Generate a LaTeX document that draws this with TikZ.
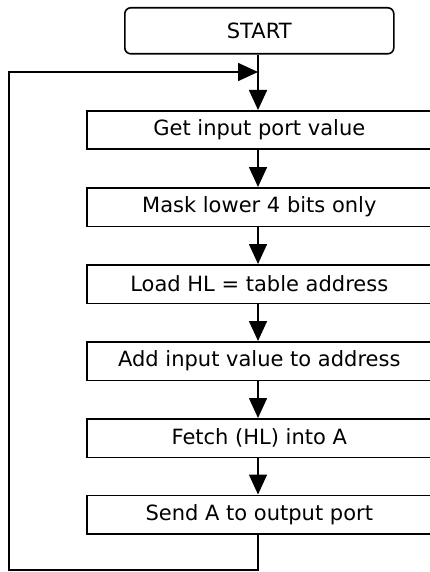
\documentclass[tikz,border=0pt]{standalone}
\usepackage{fontspec}
\setmainfont{DejaVu Sans}
\usetikzlibrary{arrows.meta}
\begin{document}
\begin{tikzpicture}[x=1pt,y=-1pt,
  every node/.style={font=\fontsize{21}{25}\selectfont},
  procbox/.style={draw,line width=1.6pt,minimum width=345pt,minimum height=38.5pt,inner sep=0pt,anchor=north west},
  startbox/.style={draw,line width=1.6pt,rounded corners=6pt,minimum width=269pt,minimum height=46pt,inner sep=0pt,anchor=north west},
  flow/.style={line width=1.6pt,-{Triangle[length=20pt,width=18pt]}},
  plain/.style={line width=1.6pt}]
\useasboundingbox (0,0) rectangle (430,572);
\node[startbox] (start) at (124,7) {START};
\node[procbox] (b1) at (86,110) {Get input port value};
\node[procbox] (b2) at (86,187) {Mask lower 4 bits only};
\node[procbox] (b3) at (86,264) {Load HL = table address};
\node[procbox] (b4) at (86,341) {Add input value to address};
\node[procbox] (b5) at (86,418) {Fetch (HL) into A};
\node[procbox] (b6) at (86,494.5) {Send A to output port};
\coordinate (merge) at (258,72);
\coordinate (bl) at (9,570);
\coordinate (tl) at (9,72);
\coordinate (b6s) at (258,570);
\draw[flow] (start.south -| merge) -- (b1.north -| merge);
\draw[flow] (b1.south -| merge) -- (b2.north -| merge);
\draw[flow] (b2.south -| merge) -- (b3.north -| merge);
\draw[flow] (b3.south -| merge) -- (b4.north -| merge);
\draw[flow] (b4.south -| merge) -- (b5.north -| merge);
\draw[flow] (b5.south -| merge) -- (b6.north -| merge);
\draw[plain] (b6.south -| merge) -- (b6s) -- (bl) -- (tl) -- ([xshift=-20pt]merge);
\draw[flow] ([xshift=-21pt]merge) -- (merge);
\end{tikzpicture}
\end{document}
